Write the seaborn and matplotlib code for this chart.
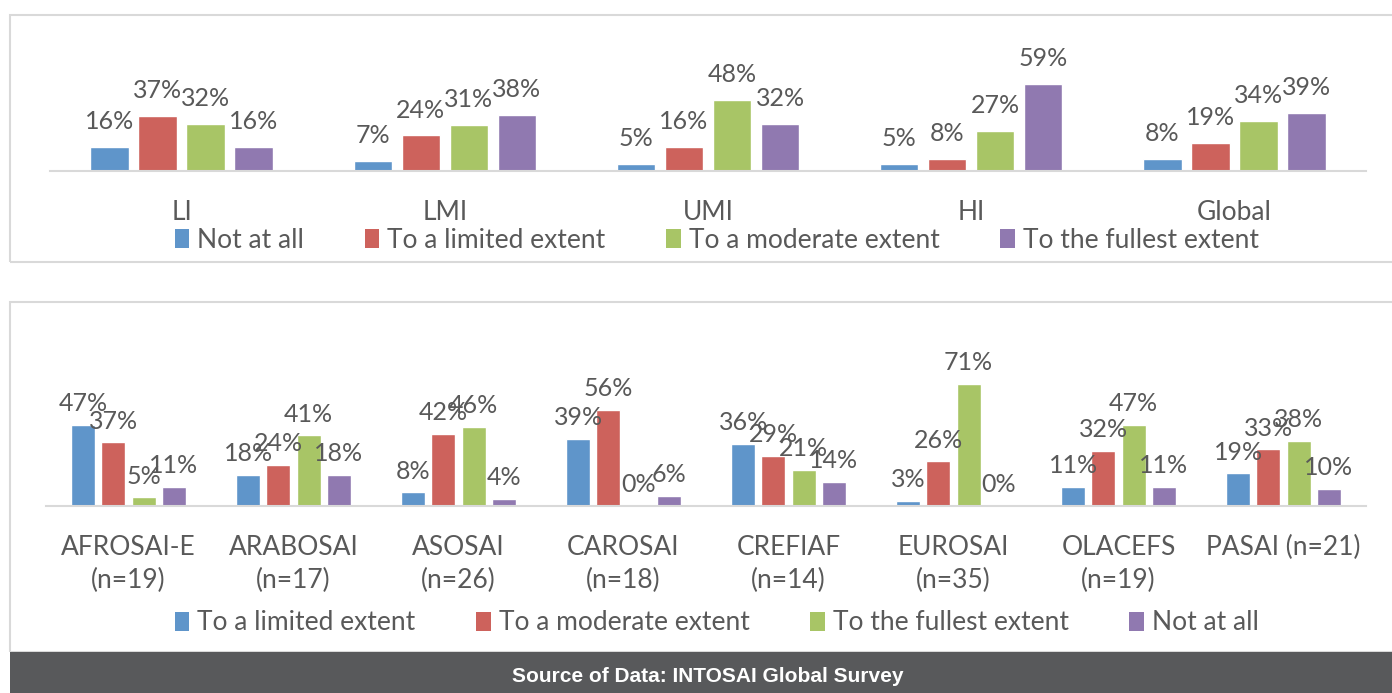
import pandas as pd
import seaborn as sns
import matplotlib.pyplot as plt
from matplotlib.patches import Rectangle, Patch

# top panel: income level groups
income_groups = ["LI", "LMI", "UMI", "HI", "Global"]
income_levels = ["Not at all", "To a limited extent", "To a moderate extent", "To the fullest extent"]
income_not_at_all = [16, 7, 5, 5, 8]
income_limited = [37, 24, 16, 8, 19]
income_moderate = [32, 31, 48, 27, 34]
income_fullest = [16, 38, 32, 59, 39]

# bottom panel: INTOSAI regions
regions = ["AFROSAI-E\n(n=19)", "ARABOSAI\n(n=17)", "ASOSAI\n(n=26)", "CAROSAI\n(n=18)",
           "CREFIAF\n(n=14)", "EUROSAI\n(n=35)", "OLACEFS\n(n=19)", "PASAI (n=21)"]
region_levels = ["To a limited extent", "To a moderate extent", "To the fullest extent", "Not at all"]
region_limited = [47, 18, 8, 39, 36, 3, 11, 19]
region_moderate = [37, 24, 42, 56, 29, 26, 32, 33]
region_fullest = [5, 41, 46, 0, 21, 71, 47, 38]
region_not_at_all = [11, 18, 4, 6, 14, 0, 11, 10]

colors = ["#5f95ca", "#cd625c", "#a8c566", "#9079b0"]
grey_text = "#595959"
line_grey = "#d9d9d9"
W, H = 1392, 693

sns.set_style("white")
plt.rcParams["font.family"] = ["Lato", "DejaVu Sans"]


def draw_panel(ax, groups, levels, series, ymax, pad, legend_y):
    df = pd.DataFrame({
        "group": [g for s in series for g in groups],
        "level": [lvl for lvl, s in zip(levels, series) for _ in s],
        "value": [v for s in series for v in s],
    })
    sns.barplot(data=df, x="group", y="value", hue="level", order=groups, hue_order=levels,
                palette=colors, saturation=1, width=0.73, gap=0.2, errorbar=None,
                legend=False, ax=ax)
    for cont in ax.containers:
        ax.bar_label(cont, labels=[f"{v:.0f}%" for v in cont.datavalues], padding=pad,
                     fontsize=18, color=grey_text)
    ax.set_ylim(0, ymax)
    ax.set_xlim(-0.5, len(groups) - 0.5)
    ax.set_xlabel("")
    ax.set_ylabel("")
    ax.set_yticks([])
    ax.tick_params(axis="x", length=0, pad=21, labelsize=19, labelcolor=grey_text)
    for lbl in ax.get_xticklabels():
        lbl.set_linespacing(1.4)
    for side in ["top", "left", "right"]:
        ax.spines[side].set_visible(False)
    ax.spines["bottom"].set_color(line_grey)
    ax.spines["bottom"].set_linewidth(1.5)
    ax.patch.set_alpha(0)
    handles = [Patch(facecolor=c, edgecolor="none") for c in colors]
    fig.legend(handles, levels, ncol=4, loc="center", bbox_to_anchor=(0.515, legend_y),
               frameon=False, fontsize=19, labelcolor=grey_text, handlelength=0.55,
               handleheight=0.75, handletextpad=0.3, columnspacing=2.3)


fig = plt.figure(figsize=(W / 100, H / 100), dpi=100)

# panel frames and footer
fig.patches.append(Rectangle((10 / W, 1 - 262 / H), 1.0, (262 - 15) / H, transform=fig.transFigure,
                             fill=False, edgecolor=line_grey, linewidth=1.5))
fig.patches.append(Rectangle((10 / W, 41 / H), 1.0, (652 - 302) / H, transform=fig.transFigure,
                             fill=False, edgecolor=line_grey, linewidth=1.5))
fig.patches.append(Rectangle((10 / W, 0), 1.0, 41 / H, transform=fig.transFigure,
                             facecolor="#58595b", edgecolor="none"))
fig.text(708 / W, 1 - 677 / H, "Source of Data: INTOSAI Global Survey", color="white",
         fontsize=15, fontweight="bold", family="Liberation Sans", ha="center", va="center")

ax_top = fig.add_axes([50 / W, 1 - 171 / H, 1316 / W, 70 * 1.48 / H])
draw_panel(ax_top, income_groups, income_levels,
           [income_not_at_all, income_limited, income_moderate, income_fullest],
           70, 10, 1 - 240 / H)

ax_bot = fig.add_axes([46 / W, 1 - 506 / H, 1320 / W, 80 * 1.72 / H])
draw_panel(ax_bot, regions, region_levels,
           [region_limited, region_moderate, region_fullest, region_not_at_all],
           80, 7, 1 - 623 / H)

fig.savefig("out.png", dpi=100)
